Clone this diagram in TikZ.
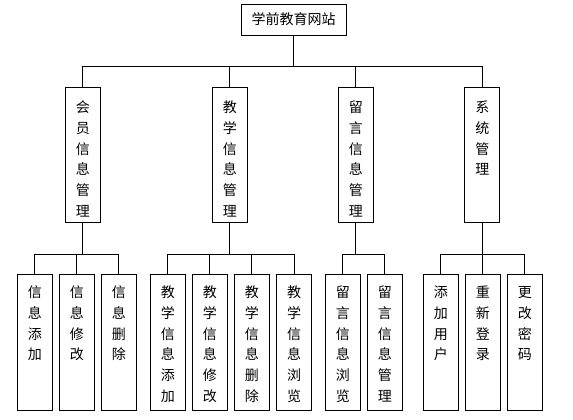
\documentclass[tikz,border=0pt]{standalone}
\usepackage{fontspec}
\newfontfamily\cjk{Noto Sans CJK SC}
\usepackage{tikz}

\tikzset{
  cjktext/.style={font=\cjk\fontsize{14pt}{20.7pt}\selectfont},
  topbox/.style={draw, line width=0.9pt, cjktext, inner sep=0pt, minimum width=105pt, minimum height=31pt},
  midbox/.style={draw, line width=0.9pt, cjktext, anchor=north, inner sep=0pt, text width=35pt, align=center, text height=25.3pt, text depth=109.7pt},
  leafbox/.style={midbox, text height=23.3pt, text depth=112.7pt},
  link/.style={line width=0.9pt}
}

\begin{document}
\begin{tikzpicture}[x=1pt, y=-1pt]
    \useasboundingbox (0, 0) rectangle (573, 420);

    \node[topbox] (root) at (293.5, 19.5) {学前教育网站};

    \node[midbox] (m1) at (82.8, 87) {会\\员\\信\\息\\管\\理};
    \node[midbox] (m2) at (229.8, 87) {教\\学\\信\\息\\管\\理};
    \node[midbox] (m3) at (355.8, 87) {留\\言\\信\\息\\管\\理};
    \node[midbox] (m4) at (482.3, 87) {系\\统\\管\\理};

    \node[leafbox] (a1) at (34.8, 274) {信\\息\\添\\加};
    \node[leafbox] (a2) at (76.8, 274) {信\\息\\修\\改};
    \node[leafbox] (a3) at (118.8, 274) {信\\息\\删\\除};

    \node[leafbox] (b1) at (167.8, 274) {教\\学\\信\\息\\添\\加};
    \node[leafbox] (b2) at (209.8, 274) {教\\学\\信\\息\\修\\改};
    \node[leafbox] (b3) at (251.8, 274) {教\\学\\信\\息\\删\\除};
    \node[leafbox] (b4) at (294, 274) {教\\学\\信\\息\\浏\\览};

    \node[leafbox] (c1) at (342.8, 274) {留\\言\\信\\息\\浏\\览};
    \node[leafbox] (c2) at (384.8, 274) {留\\言\\信\\息\\管\\理};

    \node[leafbox] (d1) at (440.8, 274) {添\\加\\用\\户};
    \node[leafbox] (d2) at (482.8, 274) {重\\新\\登\\录};
    \node[leafbox] (d3) at (524.8, 274) {更\\改\\密\\码};

    \coordinate (bus0) at (0, 66);
    \coordinate (bus1) at (0, 254);

    \foreach \n in {m1, m2, m3, m4}
        \draw[link] (root.south) -- (root.south |- bus0) -| (\n.north);

    \foreach \n in {a1, a2, a3}
        \draw[link] (m1.south) -- (m1.south |- bus1) -| (\n.north);
    \foreach \n in {b1, b2, b3, b4}
        \draw[link] (m2.south) -- (m2.south |- bus1) -| (\n.north);
    \foreach \n in {c1, c2}
        \draw[link] (m3.south) -- (m3.south |- bus1) -| (\n.north);
    \foreach \n in {d1, d2, d3}
        \draw[link] (m4.south) -- (m4.south |- bus1) -| (\n.north);
\end{tikzpicture}
\end{document}
